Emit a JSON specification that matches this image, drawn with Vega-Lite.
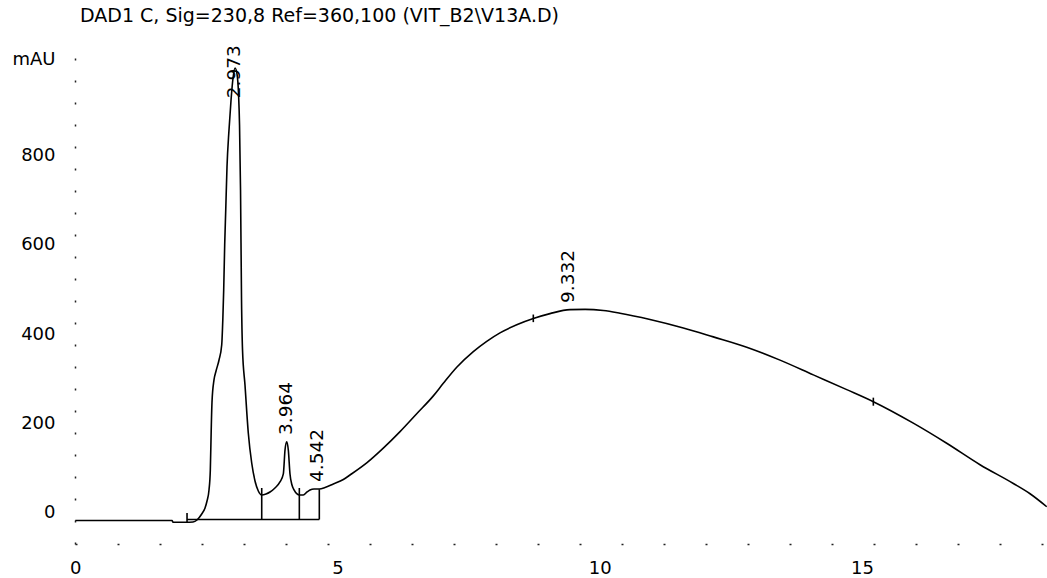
{
  "$schema": "https://vega.github.io/schema/vega-lite/v6.json",
  "width": 972,
  "height": 504,
  "autosize": "none",
  "padding": {"left": 75, "top": 40, "right": 0, "bottom": 34},
  "background": "white",
  "config": {
    "view": {"stroke": null},
    "font": "DejaVu Sans",
    "axis": {"grid": false, "ticks": false, "labelFont": "DejaVu Sans", "labelFontSize": 18, "labelColor": "black", "domainColor": "#222222", "domainWidth": 1.5}
  },
  "title": {
    "text": "DAD1 C, Sig=230,8 Ref=360,100 (VIT_B2\\V13A.D)",
    "anchor": "start",
    "frame": "group",
    "offset": 15,
    "dx": 5,
    "dy": 16,
    "baseline": "alphabetic",
    "fontSize": 19,
    "fontWeight": "normal",
    "font": "DejaVu Sans",
    "color": "black"
  },
  "datasets": {
    "signal": [
      {"t": 0, "mAU": -16.8}, {"t": 1.844, "mAU": -16.8}, {"t": 1.863, "mAU": -20.8}, {"t": 2.111, "mAU": -20.8},
      {"t": 2.244, "mAU": -20.1}, {"t": 2.32, "mAU": -15.7}, {"t": 2.41, "mAU": -2.2}, {"t": 2.473, "mAU": 11.2},
      {"t": 2.511, "mAU": 26.8}, {"t": 2.549, "mAU": 51.5}, {"t": 2.574, "mAU": 96.2}, {"t": 2.591, "mAU": 185.7},
      {"t": 2.606, "mAU": 248.3}, {"t": 2.644, "mAU": 297.6}, {"t": 2.683, "mAU": 317.7}, {"t": 2.74, "mAU": 342.3},
      {"t": 2.791, "mAU": 375.8}, {"t": 2.812, "mAU": 431.8}, {"t": 2.829, "mAU": 498.9}, {"t": 2.848, "mAU": 599.6},
      {"t": 2.868, "mAU": 677.8}, {"t": 2.892, "mAU": 774.1}, {"t": 2.93, "mAU": 856.8}, {"t": 2.969, "mAU": 923.9},
      {"t": 3.007, "mAU": 973.2}, {"t": 3.045, "mAU": 995.5}, {"t": 3.083, "mAU": 982.1}, {"t": 3.112, "mAU": 937.3},
      {"t": 3.131, "mAU": 868}, {"t": 3.15, "mAU": 722.6}, {"t": 3.169, "mAU": 476.5}, {"t": 3.188, "mAU": 364.6},
      {"t": 3.235, "mAU": 286.3}, {"t": 3.298, "mAU": 179}, {"t": 3.363, "mAU": 111.8}, {"t": 3.426, "mAU": 71.6},
      {"t": 3.489, "mAU": 49.2}, {"t": 3.554, "mAU": 40.3}, {"t": 3.636, "mAU": 42.5}, {"t": 3.712, "mAU": 47},
      {"t": 3.807, "mAU": 56}, {"t": 3.902, "mAU": 69.4}, {"t": 3.966, "mAU": 87.3}, {"t": 3.998, "mAU": 140.9},
      {"t": 4.031, "mAU": 159.5}, {"t": 4.061, "mAU": 140.9}, {"t": 4.093, "mAU": 87.3}, {"t": 4.131, "mAU": 62.6},
      {"t": 4.17, "mAU": 51.5}, {"t": 4.227, "mAU": 42.5}, {"t": 4.271, "mAU": 40.3}, {"t": 4.347, "mAU": 40.3},
      {"t": 4.418, "mAU": 47}, {"t": 4.475, "mAU": 51.5}, {"t": 4.551, "mAU": 53.7}, {"t": 4.652, "mAU": 53.7},
      {"t": 4.761, "mAU": 57.1}, {"t": 4.919, "mAU": 64.9}, {"t": 5.11, "mAU": 75}, {"t": 5.237, "mAU": 85},
      {"t": 5.556, "mAU": 112}, {"t": 5.872, "mAU": 145}, {"t": 6.191, "mAU": 182}, {"t": 6.509, "mAU": 222},
      {"t": 6.826, "mAU": 262}, {"t": 7.016, "mAU": 290}, {"t": 7.272, "mAU": 326}, {"t": 7.588, "mAU": 361},
      {"t": 7.844, "mAU": 384}, {"t": 8.097, "mAU": 403}, {"t": 8.416, "mAU": 421}, {"t": 8.732, "mAU": 435},
      {"t": 9.05, "mAU": 446}, {"t": 9.432, "mAU": 455}, {"t": 9.718, "mAU": 455.5}, {"t": 10.067, "mAU": 453},
      {"t": 10.385, "mAU": 447}, {"t": 10.957, "mAU": 433}, {"t": 11.592, "mAU": 414}, {"t": 12.164, "mAU": 394},
      {"t": 12.801, "mAU": 371}, {"t": 13.436, "mAU": 342}, {"t": 14.071, "mAU": 309}, {"t": 14.708, "mAU": 276},
      {"t": 15.215, "mAU": 249}, {"t": 15.977, "mAU": 201}, {"t": 16.614, "mAU": 156}, {"t": 17.249, "mAU": 108},
      {"t": 17.884, "mAU": 66}, {"t": 18.203, "mAU": 43}, {"t": 18.521, "mAU": 14}
    ],
    "baseline": [{"t": 2.13, "t2": 4.652, "mAU": -14.5}],
    "marks": [
      {"t": 2.13, "mAU": 0, "mAU2": -20.1},
      {"t": 3.554, "mAU": -14.5, "mAU2": 55.9},
      {"t": 4.271, "mAU": -14.5, "mAU2": 55.9},
      {"t": 4.652, "mAU": -14.5, "mAU2": 53},
      {"t": 8.732, "mAU": 427, "mAU2": 444},
      {"t": 15.215, "mAU": 240, "mAU2": 258}
    ],
    "peaks": [
      {"t": 2.973, "label": "2.973", "mAU": 928},
      {"t": 3.964, "label": "3.964", "mAU": 174.5},
      {"t": 4.542, "label": "4.542", "mAU": 69.4},
      {"t": 9.332, "label": "9.332", "mAU": 469.8}
    ]
  },
  "layer": [
    {
      "data": {"name": "signal"},
      "mark": {"type": "line", "color": "black", "strokeWidth": 1.6, "interpolate": "monotone"},
      "encoding": {
        "x": {
          "field": "t", "type": "quantitative",
          "scale": {"domain": [-0.006, 18.526], "nice": false, "zero": false},
          "axis": {"values": [0, 5, 10, 15], "labelPadding": 15, "domainDash": [2, 40], "labelFlush": false, "title": null, "labelAngle": 0}
        },
        "y": {
          "field": "mAU", "type": "quantitative",
          "scale": {"domain": [-69.4, 1058.2], "nice": false, "zero": false},
          "axis": {"values": [0, 200, 400, 600, 800], "labelPadding": 20, "domainDash": [2, 20], "title": "mAU", "titleAngle": 0, "titleX": -63, "titleY": 19, "titleAlign": "left", "titleBaseline": "middle", "titleFontWeight": "normal", "titleFontSize": 18, "titleFont": "DejaVu Sans", "titleColor": "black"}
        }
      }
    },
    {
      "data": {"name": "baseline"},
      "mark": {"type": "rule", "color": "black", "strokeWidth": 1.6},
      "encoding": {
        "x": {"field": "t", "type": "quantitative"},
        "x2": {"field": "t2"},
        "y": {"field": "mAU", "type": "quantitative"}
      }
    },
    {
      "data": {"name": "marks"},
      "mark": {"type": "rule", "color": "black", "strokeWidth": 1.6},
      "encoding": {
        "x": {"field": "t", "type": "quantitative"},
        "y": {"field": "mAU", "type": "quantitative"},
        "y2": {"field": "mAU2"}
      }
    },
    {
      "data": {"name": "peaks"},
      "mark": {"type": "text", "angle": 270, "align": "left", "baseline": "middle", "dy": 3, "fontSize": 18.5, "font": "DejaVu Sans", "color": "black"},
      "encoding": {
        "x": {"field": "t", "type": "quantitative"},
        "y": {"field": "mAU", "type": "quantitative"},
        "text": {"field": "label"}
      }
    }
  ]
}
